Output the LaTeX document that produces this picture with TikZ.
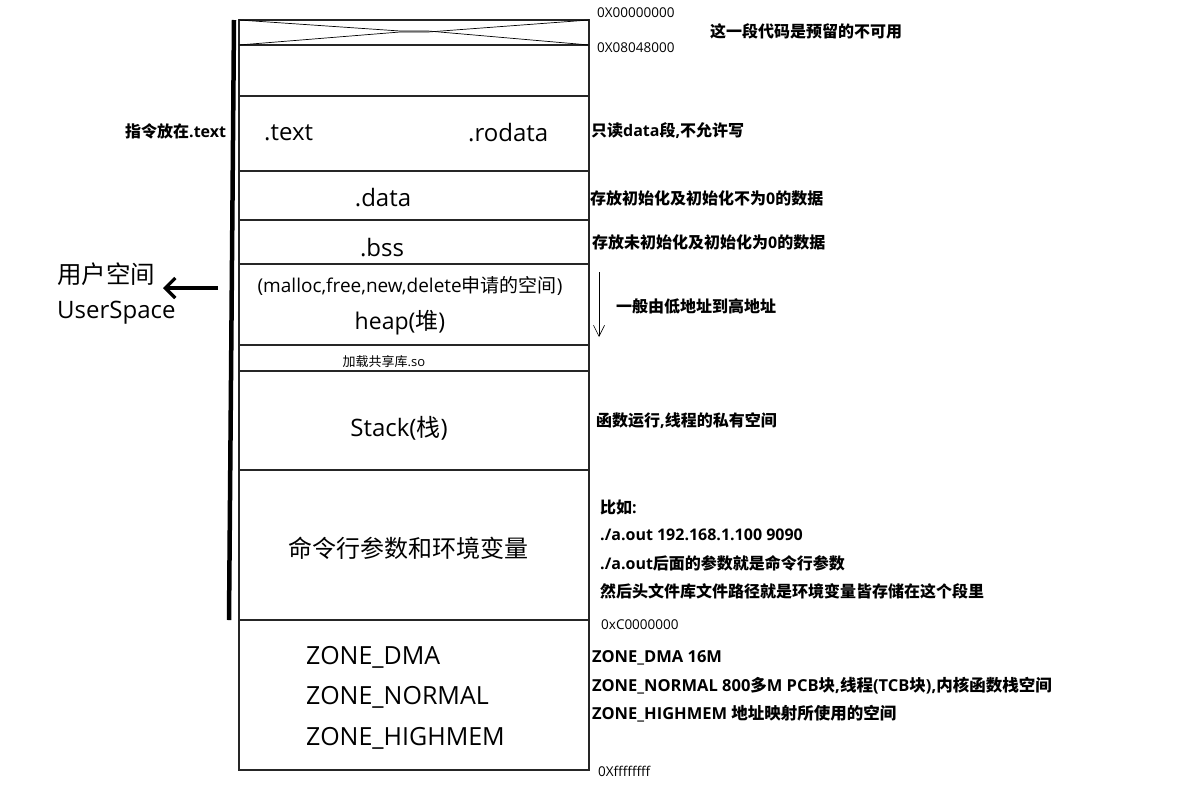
\documentclass[tikz,border=0pt]{standalone}
\usepackage{fontspec}
\setmainfont{Open Sans}
\newfontfamily\cjk{Noto Sans CJK SC}
\usetikzlibrary{arrows.meta}
\begin{document}
\begin{tikzpicture}[x=1pt,y=-1pt,
  seg/.style={line width=1.1pt,draw=black!85},
  ann/.style={inner sep=0pt,anchor=west,font=\bfseries\fontsize{16}{19}\selectfont},
  zann/.style={inner sep=0pt,anchor=west,font=\bfseries\fontsize{16.5}{19}\selectfont},
  addr/.style={inner sep=0pt,anchor=west,font=\fontsize{13.5}{16}\selectfont},
  big/.style={inner sep=0pt,font=\fontsize{24}{28}\selectfont},
  zone/.style={inner sep=0pt,anchor=west,font=\fontsize{25}{29}\selectfont},
]
\useasboundingbox (0,0) rectangle (1178,793);
\fill[white] (0,0) rectangle (1178,793);
% memory box
\draw[seg] (239,20) rectangle (589,770);
\foreach \yy in {45,96,171,220,264,345,371,470,620} \draw[seg] (239,\yy) -- (589,\yy);
\draw[line width=0.7pt] (239,20) -- (400,31) -- (428,31) -- (589,45);
\draw[line width=0.7pt] (239,45) -- (400,32) -- (428,32) -- (589,20);
% left bar and arrow
\draw[line width=4.5pt] (234,20) -- (229,620);
\coordinate (ua) at (218,288);
\coordinate (ub) at (163,288);
\draw[line width=3.2pt,-{Straight Barb[length=10pt,width=20pt,line width=3.2pt]}] (ua) -- (ub);
\node[inner sep=0pt,anchor=west,font=\cjk\fontsize{24.5}{28}\selectfont] (us1) at (57,274) {用户空间};
\node[inner sep=0pt,anchor=west,font=\fontsize{24}{28}\selectfont] (us2) at (57,313) {UserSpace};
\node[inner sep=0pt,anchor=west,font=\bfseries\fontsize{16}{18}\selectfont] (ins) at (125,131) {{\cjk 指令放在}.text};
% box contents
\node[big,anchor=west] (text) at (264,133) {.text};
\node[big,anchor=west] (rodata) at (468,133) {.rodata};
\node[big] (data) at (383,198) {.data};
\node[big] (bss) at (382,248) {.bss};
\node[inner sep=0pt,font=\fontsize{19}{22}\selectfont] (malloc) at (410,286) {(malloc,free,new,delete{\cjk 申请的空间})};
\node[inner sep=0pt,font=\fontsize{23}{26}\selectfont] (heap) at (400,323) {heap({\cjk 堆})};
\node[inner sep=0pt,font=\fontsize{13}{15}\selectfont] (so) at (384,362) {{\cjk 加载共享库}.so};
\node[big] (stack) at (399,428) {Stack({\cjk 栈})};
\node[inner sep=0pt,font=\cjk\fontsize{24}{28}\selectfont] (cmd) at (408,548) {命令行参数和环境变量};
\node[zone] (zd) at (306,657) {ZONE\_DMA};
\node[zone] (zn) at (306,697) {ZONE\_NORMAL};
\node[zone] (zh) at (306,738) {ZONE\_HIGHMEM};
% addresses
\node[addr] (a0) at (597,13) {0X00000000};
\node[addr] (a1) at (597,48) {0X08048000};
\node[addr] (a2) at (601,625) {0xC0000000};
\node[addr] (a3) at (598,771) {0Xffffffff};
% annotations
\node[ann] (n0) at (710,31) {\cjk 这一段代码是预留的不可用};
\node[ann] (n1) at (591,131) {{\cjk 只读}data{\cjk 段},{\cjk 不允许写}};
\node[ann] (n2) at (590,198) {{\cjk 存放初始化及初始化不为}0{\cjk 的数据}};
\node[ann] (n3) at (592,242) {{\cjk 存放未初始化及初始化为}0{\cjk 的数据}};
\coordinate (da) at (599,272);
\coordinate (db) at (599,337);
\draw[line width=0.6pt,-{Straight Barb[length=11pt,width=11pt,line width=0.6pt]}] (da) -- (db);
\node[ann] (n4) at (616,306) {\cjk 一般由低地址到高地址};
\node[ann] (n5) at (596,421) {{\cjk 函数运行},{\cjk 线程的私有空间}};
\node[ann] (n6) at (600,507) {{\cjk 比如}:};
\node[ann] (n7) at (600,535) {./a.out 192.168.1.100 9090};
\node[ann] (n8) at (600,563) {./a.out{\cjk 后面的参数就是命令行参数}};
\node[ann] (n9) at (600,591) {\cjk 然后头文件库文件路径就是环境变量皆存储在这个段里};
\node[zann] (z1) at (592,658) {ZONE\_DMA 16M};
\node[zann] (z2) at (592,686) {ZONE\_NORMAL 800{\cjk 多}M PCB{\cjk 块},{\cjk 线程}(TCB{\cjk 块}),{\cjk 内核函数栈空间}};
\node[zann] (z3) at (592,714) {ZONE\_HIGHMEM {\cjk 地址映射所使用的空间}};
\end{tikzpicture}
\end{document}
